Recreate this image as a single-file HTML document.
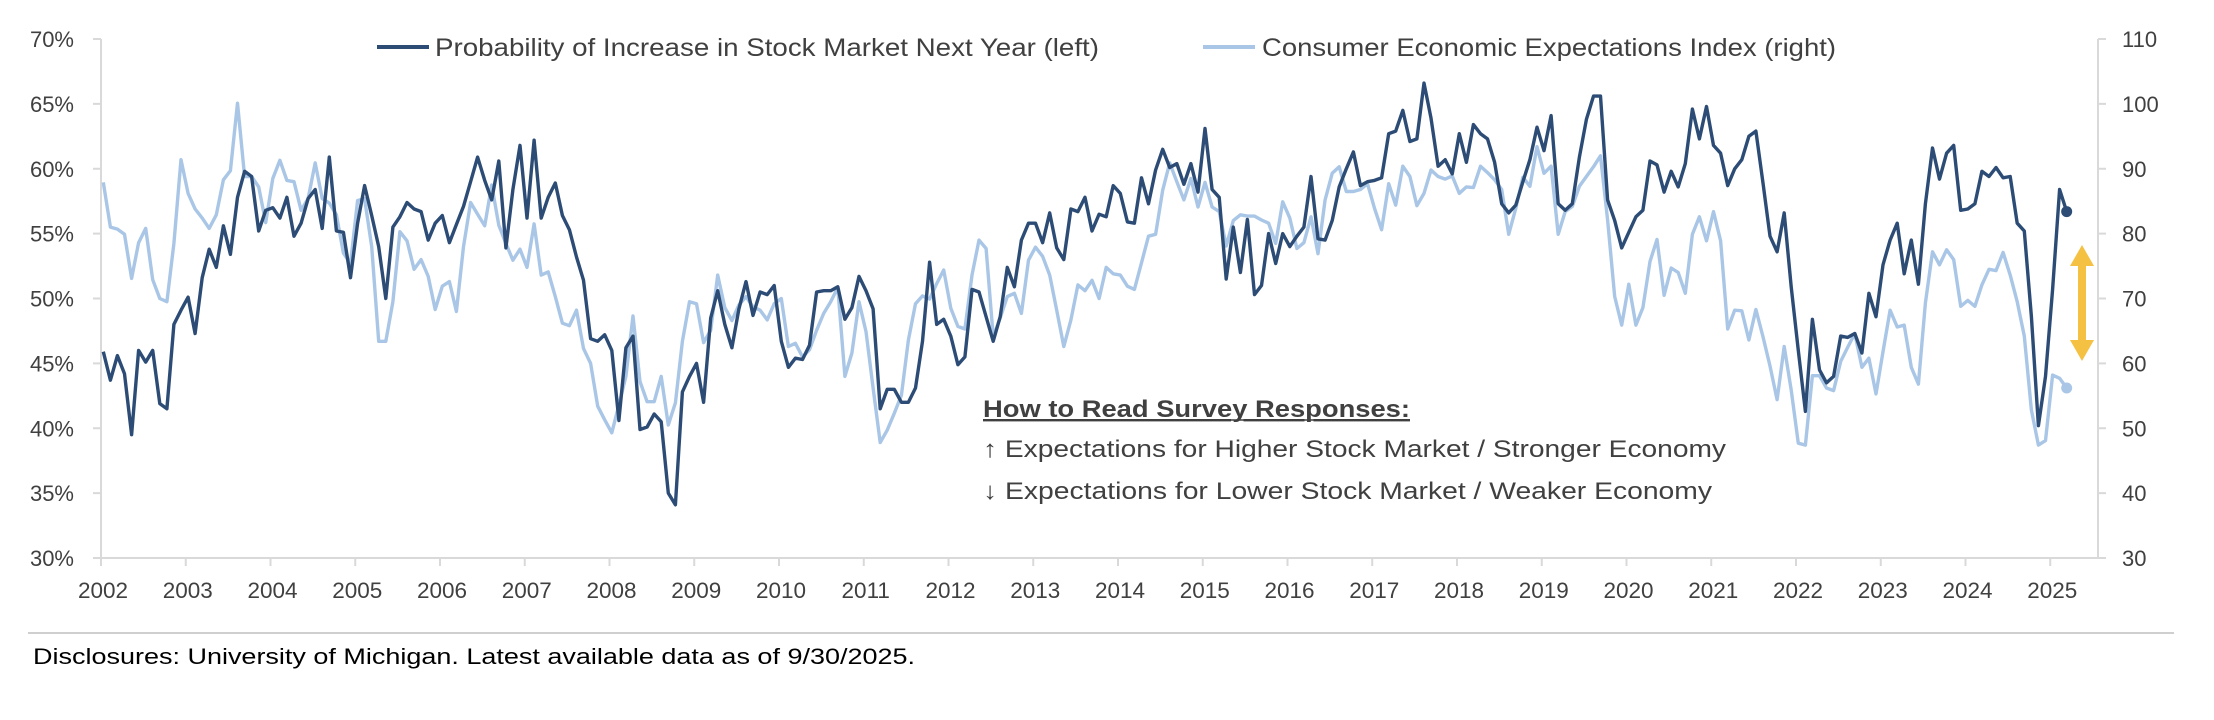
<!DOCTYPE html>
<html><head><meta charset="utf-8"><style>
html,body{margin:0;padding:0;background:#fff;}
svg{display:block;font-family:"Liberation Sans",Arial,sans-serif;}
</style></head><body>
<svg id="chart" width="2214" height="720" viewBox="0 0 2214 720" xmlns="http://www.w3.org/2000/svg">
<g id="axes"></g>
<g id="series"></g>
<g>
 <line x1="377" y1="47" x2="429" y2="47" stroke="#2C4C76" stroke-width="4"/>
 <text x="435" y="56" font-size="25" fill="#404040" textLength="664" lengthAdjust="spacingAndGlyphs">Probability of Increase in Stock Market Next Year (left)</text>
 <line x1="1203" y1="47" x2="1255" y2="47" stroke="#A9C6E6" stroke-width="4"/>
 <text x="1262" y="56" font-size="25" fill="#404040" textLength="574" lengthAdjust="spacingAndGlyphs">Consumer Economic Expectations Index (right)</text>
</g>
<g fill="#404040">
 <text x="983" y="417" font-size="24" font-weight="bold" text-decoration="underline" textLength="427" lengthAdjust="spacingAndGlyphs">How to Read Survey Responses:</text>
 <line x1="983" y1="420" x2="1410" y2="420" stroke="#404040" stroke-width="1.5"/>
 <text x="983" y="457" font-size="24" textLength="743" lengthAdjust="spacingAndGlyphs">↑ Expectations for Higher Stock Market / Stronger Economy</text>
 <text x="983" y="499" font-size="24" textLength="729" lengthAdjust="spacingAndGlyphs">↓ Expectations for Lower Stock Market / Weaker Economy</text>
</g>
<g fill="#F4C142">
 <rect x="2078" y="262" width="8" height="82"/>
 <polygon points="2082,245 2094,266 2070,266"/>
 <polygon points="2082,361 2094,340 2070,340"/>
</g>
<line x1="28" y1="633" x2="2174" y2="633" stroke="#cfcfcf" stroke-width="2"/>
<text x="33" y="664" font-size="22" fill="#000" textLength="882" lengthAdjust="spacingAndGlyphs">Disclosures: University of Michigan. Latest available data as of 9/30/2025.</text>
</svg>
<script>
const startYear = 2002;
const yearLabels = ["2002","2003","2004","2005","2006","2007","2008","2009","2010","2011","2012","2013","2014","2015","2016","2017","2018","2019","2020","2021","2022","2023","2024","2025"];
const leftTicks = [30,35,40,45,50,55,60,65,70];
const rightTicks = [30,40,50,60,70,80,90,100,110];
// Probability of increase in stock market next year (%), monthly from Jan 2002
const stockProb = [
45.9,43.7,45.6,44.2,39.5,46.0,45.1,46.0,41.9,41.5,48.0,49.1,
50.1,47.3,51.6,53.8,52.4,55.6,53.4,57.8,59.8,59.4,55.2,56.8,
57.0,56.2,57.8,54.8,55.8,57.7,58.4,55.4,60.9,55.2,55.1,51.6,
55.8,58.7,56.4,54.0,50.0,55.5,56.3,57.4,56.9,56.7,54.5,55.8,
56.4,54.3,55.7,57.1,59.0,60.9,59.1,57.6,60.6,53.9,58.4,61.8,
56.2,62.2,56.2,57.8,58.9,56.4,55.3,53.2,51.4,46.9,46.7,47.2,
46.0,40.6,46.2,47.1,39.9,40.1,41.1,40.5,35.0,34.1,42.8,44.0,
45.0,42.0,48.5,50.6,48.0,46.2,49.2,51.3,48.7,50.5,50.3,51.0,
46.7,44.7,45.4,45.3,46.4,50.5,50.6,50.6,50.9,48.4,49.3,51.7,
50.6,49.2,41.5,43.0,43.0,42.0,42.0,43.1,46.7,52.8,48.0,48.4,
47.1,44.9,45.5,50.7,50.5,48.6,46.7,48.6,52.4,50.9,54.5,55.8,
55.8,54.3,56.6,53.9,53.0,56.9,56.7,57.8,55.2,56.5,56.3,58.7,
58.1,55.9,55.8,59.3,57.3,59.9,61.5,60.1,60.4,58.8,60.4,58.2,
63.1,58.4,57.8,51.5,55.5,52.0,56.1,50.3,51.0,55.0,52.7,55.0,
54.0,54.8,55.5,59.4,54.6,54.5,56.0,58.6,60.0,61.3,58.7,59.0,
59.1,59.3,62.7,62.9,64.5,62.1,62.3,66.6,63.9,60.2,60.7,59.6,
62.7,60.5,63.4,62.7,62.3,60.5,57.3,56.6,57.2,59.0,60.7,63.2,
61.4,64.1,57.3,56.8,57.3,60.9,63.8,65.6,65.6,57.6,56.0,53.9,
55.1,56.3,56.8,60.6,60.3,58.2,59.8,58.6,60.4,64.6,62.3,64.8,
61.8,61.2,58.7,60.0,60.7,62.5,62.9,58.9,54.8,53.6,56.6,50.9,
46.0,41.3,48.4,44.5,43.5,44.0,47.1,47.0,47.3,45.8,50.4,48.6,
52.6,54.5,55.8,51.9,54.5,51.1,57.3,61.6,59.2,61.2,61.8,56.8,
56.9,57.3,59.8,59.4,60.1,59.3,59.4,55.8,55.2,48.6,40.2,44.0,
50.7,58.4,56.7];
// Consumer economic expectations index, monthly from Jan 2002
const expectIdx = [
87.9,81.0,80.7,79.9,73.1,78.6,80.8,72.9,70.0,69.5,78.5,91.4,
86.2,83.8,82.4,80.8,82.9,88.3,89.7,100.1,88.8,88.8,87.2,81.7,
88.5,91.3,88.2,88.0,83.6,85.4,90.9,85.4,84.7,82.9,77.0,75.4,
85.1,85.4,78.0,63.4,63.4,69.5,80.3,78.9,74.5,76.0,73.4,68.3,
71.9,72.6,68.0,78.0,84.8,83.0,81.2,87.5,81.3,78.5,75.9,77.6,
74.8,81.5,73.6,74.1,70.3,66.2,65.8,68.2,62.3,60.0,53.4,51.3,
49.3,53.6,58.0,67.3,57.2,54.1,54.1,58.0,50.5,53.9,63.4,69.5,
69.2,63.2,65.1,73.6,68.6,66.6,69.0,70.3,68.7,68.2,66.7,69.2,
70.0,62.6,63.1,61.0,62.1,65.1,67.7,69.5,71.7,58.0,61.6,69.5,
64.9,56.2,47.8,49.7,52.3,55.1,63.6,69.2,70.4,69.9,72.3,74.4,
68.5,65.7,65.3,73.6,79.0,77.7,64.1,67.0,70.3,70.8,67.7,75.9,
77.9,76.5,73.6,68.2,62.6,66.7,72.1,71.2,72.8,70.0,74.8,73.8,
73.6,71.9,71.4,75.5,79.6,79.9,86.7,90.9,88.0,85.2,88.5,84.1,
87.9,84.1,83.4,78.1,82.0,82.9,82.7,82.7,82.1,81.6,78.5,84.9,
82.4,77.7,78.6,82.6,76.9,85.2,89.3,90.3,86.5,86.5,86.8,87.7,
83.9,80.6,87.7,84.4,90.4,88.8,84.3,86.2,89.8,88.8,88.4,88.9,
86.2,87.2,87.1,90.4,89.4,88.3,86.8,79.9,83.9,88.7,87.3,93.4,
89.3,90.4,79.9,83.4,84.2,87.3,88.8,90.3,92.0,82.1,70.3,65.9,
72.2,65.9,68.6,75.7,79.1,70.5,74.7,74.0,70.8,79.9,82.6,78.9,
83.4,78.9,65.3,68.2,68.1,63.6,68.3,64.1,59.6,54.4,62.6,55.9,
47.7,47.4,58.1,58.1,56.2,55.8,60.3,62.5,64.6,59.4,60.8,55.3,
61.8,68.2,65.6,65.9,59.4,56.8,69.3,77.2,75.2,77.5,76.0,68.8,
69.7,68.8,72.1,74.5,74.3,77.1,73.6,69.5,64.2,52.8,47.4,48.1,
58.2,57.7,56.2];

const NS = "http://www.w3.org/2000/svg";
const plotL = 101, plotR = 2098, plotT = 39, plotB = 558;
const yearW = 84.75;
function xMonth(m){ return plotL + 2.3 + m * yearW / 12; }
function xYear(i){ return plotL + i * yearW; }
function yLeft(v){ return plotB - (v - 30) / 40 * (plotB - plotT); }
function yRight(v){ return plotB - (v - 30) / 80 * (plotB - plotT); }
function mk(tag, attrs, parent){
  const el = document.createElementNS(NS, tag);
  for (const k in attrs) el.setAttribute(k, attrs[k]);
  parent.appendChild(el);
  return el;
}
const axes = document.getElementById('axes');
const grey = "#d9d9d9";
let el;
el = mk('line', {x1:plotL, y1:plotT, x2:plotL, y2:plotB, stroke:grey, 'stroke-width':2}, axes);


el = mk('line', {x1:plotR, y1:plotT, x2:plotR, y2:plotB, stroke:grey, 'stroke-width':2}, axes);


el = mk('line', {x1:plotL, y1:plotB, x2:plotR, y2:plotB, stroke:grey, 'stroke-width':2}, axes);


leftTicks.forEach(v => {
  const y = yLeft(v);
  const t = mk('line', {x1:plotL-8, y1:y, x2:plotL, y2:y, stroke:grey, 'stroke-width':2}, axes);
  
  
  const lb = mk('text', {x:74, y:y+8, 'font-size':22, fill:'#404040', 'text-anchor':'end'}, axes);
  
  
  lb.textContent = v + '%';
});
rightTicks.forEach(v => {
  const y = yRight(v);
  const t = mk('line', {x1:plotR, y1:y, x2:plotR+8, y2:y, stroke:grey, 'stroke-width':2}, axes);
  
  
  const lb = mk('text', {x:2122, y:y+8, 'font-size':22, fill:'#404040'}, axes);
  
  
  lb.textContent = v;
});
yearLabels.forEach((s, i) => {
  const x = xYear(i);
  const t = mk('line', {x1:x, y1:plotB, x2:x, y2:plotB+8, stroke:grey, 'stroke-width':2}, axes);
  
  
  const lb = mk('text', {x:x+2, y:598, 'font-size':22.5, fill:'#404040', 'text-anchor':'middle'}, axes);
  
  
  lb.textContent = s;
});
const series = document.getElementById('series');
function drawLine(vals, yf, color, name){
  const pts = vals.map((v, m) => xMonth(m).toFixed(1) + ',' + yf(v).toFixed(1)).join(' ');
  const pl = mk('polyline', {points:pts, fill:'none', stroke:color, 'stroke-width':3.4, 'stroke-linejoin':'round'}, series);
  
  
  const last = vals.length - 1;
  const dot = mk('circle', {cx:xMonth(last), cy:yf(vals[last]), r:5.5, fill:color}, series);
  
  
}
drawLine(expectIdx, yRight, '#A9C6E6', 'expectations-index');
drawLine(stockProb, yLeft, '#2C4C76', 'stock-probability');
</script>
</body></html>
